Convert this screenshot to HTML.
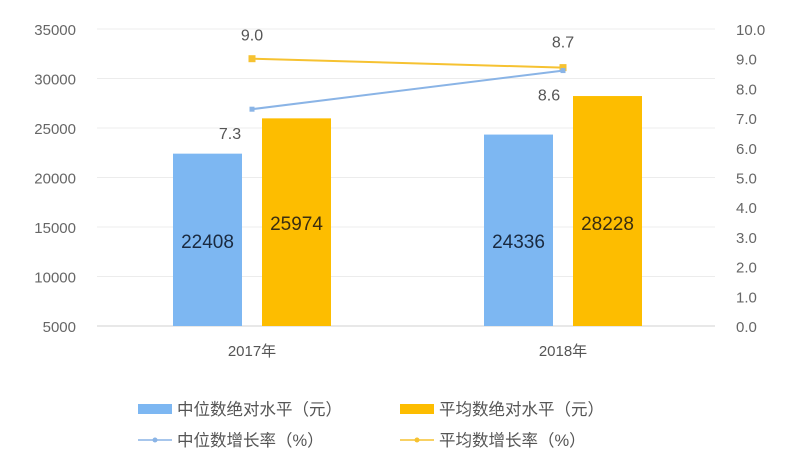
<!DOCTYPE html>
<html><head><meta charset="utf-8"><style>
body{margin:0;background:#fff;}
svg{display:block;font-family:"Liberation Sans","Noto Sans CJK SC",sans-serif;}
</style></head><body>
<svg id="chart" width="800" height="471"></svg>
<script>
const categories=["2017年","2018年"];
const medianLevel=[22408,24336];
const meanLevel=[25974,28228];
const medianGrowth=[7.3,8.6];
const meanGrowth=[9.0,8.7];
const leftTicks=[5000,10000,15000,20000,25000,30000,35000];
const rightTicks=[0,1,2,3,4,5,6,7,8,9,10];
const NS="http://www.w3.org/2000/svg";
const svg=document.getElementById('chart');
const x0=97,x1=715,yTop=29,yBot=326;
const yL=v=>yBot-(v-5000)/30000*(yBot-yTop);
const yR=v=>yBot-v/10*(yBot-yTop);
const cx=i=>252+i*311;
function el(t,a,txt){const e=document.createElementNS(NS,t);for(const k in a)e.setAttribute(k,a[k]);if(txt!==undefined)e.textContent=txt;svg.appendChild(e);return e;}
leftTicks.forEach(v=>{
 const g=el('line',{x1:x0,x2:x1,y1:yL(v),y2:yL(v),stroke:v===5000?'#d0d0d0':'#ececec','stroke-width':1});
 
 
 const t=el('text',{x:76,y:yL(v)+6,'text-anchor':'end','font-size':15,fill:'#666'},String(v));
 
 
});
rightTicks.forEach(v=>{
 const t=el('text',{x:736,y:yR(v)+6,'font-size':15,fill:'#666'},v.toFixed(1));
 
 
});
const bw=69;
categories.forEach((c,i)=>{
 const t=el('text',{x:cx(i),y:356,'text-anchor':'middle','font-size':15,fill:'#555'},c);
 
 
 const bx=cx(i)-10-bw, ox=cx(i)+10;
 const b=el('rect',{x:bx,y:yL(medianLevel[i]),width:bw,height:yBot-yL(medianLevel[i]),fill:'#7db7f2'});
 
 
 const o=el('rect',{x:ox,y:yL(meanLevel[i]),width:bw,height:yBot-yL(meanLevel[i]),fill:'#fdbd00'});
 
 
 const bl=el('text',{x:bx+bw/2,y:248,'text-anchor':'middle','font-size':19,fill:'#1a2a40'},String(medianLevel[i]));
 
 
 const ol=el('text',{x:ox+bw/2,y:230,'text-anchor':'middle','font-size':19,fill:'#3a2e10'},String(meanLevel[i]));
 
 
});
function series(vals,color,name,r,labDy){
 const pts=vals.map((v,i)=>cx(i)+','+yR(v)).join(' ');
 const l=el('polyline',{points:pts,fill:'none',stroke:color,'stroke-width':2});
 
 
 vals.forEach((v,i)=>{
  const p=el('rect',{x:cx(i)-r,y:yR(v)-r,width:2*r,height:2*r,fill:color});
  
  
  const t=el('text',{x:cx(i)+labDy[i][0],y:yR(v)+labDy[i][1],'text-anchor':'middle','font-size':16,fill:'#555'},v.toFixed(1));
  
  
 });
}
series(meanGrowth,'#f6c231','mean-growth',3.5,[[0,-18],[0,-20]]);
series(medianGrowth,'#8ab4e6','median-growth',2.5,[[-22,30],[-14,30]]);
function leg(x,y,color,label,isLine){
 if(isLine){
  const l=el('line',{x1:x,x2:x+34,y1:y,y2:y,stroke:color,'stroke-width':1.5});
  
  
  const d=el('circle',{cx:x+17,cy:y,r:2.5,fill:color});
  
  
 } else {
  const r=el('rect',{x:x,y:y-5,width:34,height:10,fill:color});
  
  
 }
 const t=el('text',{x:x+39,y:y+6,'font-size':16.5,fill:'#555'},label);
 
 
}
leg(138,409,'#7db7f2','中位数绝对水平（元）',false);
leg(400,409,'#fdbd00','平均数绝对水平（元）',false);
leg(138,440,'#8ab4e6','中位数增长率（%）',true);
leg(400,440,'#f6c231','平均数增长率（%）',true);
</script>
</body></html>
